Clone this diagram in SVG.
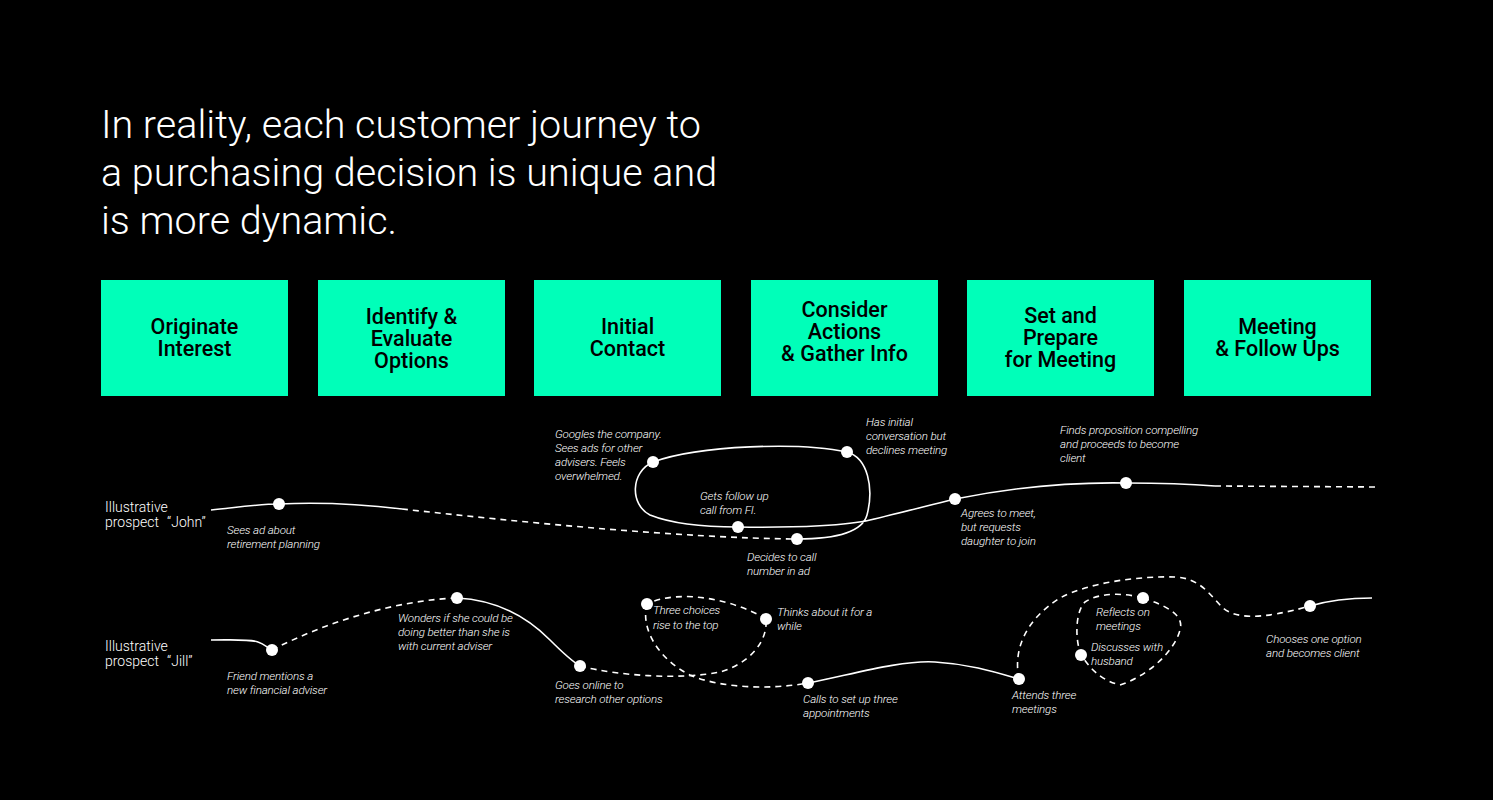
<svg xmlns="http://www.w3.org/2000/svg" width="1493" height="800" viewBox="0 0 1493 800">
<style>
.title{font-family:Roboto,"Liberation Sans",sans-serif;font-weight:300;font-size:39.5px;fill:#fff}
.box{fill:#00FFB9}
.bt{font-family:Roboto,"Liberation Sans",sans-serif;font-weight:500;font-size:21.5px;fill:#000;text-anchor:middle}
.who{font-family:Roboto,"Liberation Sans",sans-serif;font-weight:300;font-size:14px;fill:#fff}
.lbl{font-family:Roboto,"Liberation Sans",sans-serif;font-weight:300;font-style:italic;font-size:11.6px;fill:#fff;letter-spacing:-0.15px}
.solid{fill:none;stroke:#fff;stroke-width:1.6}
.dash{fill:none;stroke:#fff;stroke-width:1.6;stroke-dasharray:6 5}
.dot{fill:#fff}
</style>
<rect width="1493" height="800" fill="#000"/>
<text class="title"><tspan x="101" y="138">In reality, each customer journey to</tspan><tspan x="101" y="186">a purchasing decision is unique and</tspan><tspan x="101" y="234">is more dynamic.</tspan></text>

<g id="stage1"><rect class="box" x="101" y="280" width="187" height="116"/><text class="bt"><tspan x="194.5" y="334">Originate</tspan><tspan x="194.5" y="356">Interest</tspan></text></g>
<g id="stage2"><rect class="box" x="318" y="280" width="187" height="116"/><text class="bt"><tspan x="411.5" y="324">Identify &amp;</tspan><tspan x="411.5" y="346">Evaluate</tspan><tspan x="411.5" y="368">Options</tspan></text></g>
<g id="stage3"><rect class="box" x="534" y="280" width="187" height="116"/><text class="bt"><tspan x="627.5" y="334">Initial</tspan><tspan x="627.5" y="356">Contact</tspan></text></g>
<g id="stage4"><rect class="box" x="751" y="280" width="187" height="116"/><text class="bt"><tspan x="844.5" y="317">Consider</tspan><tspan x="844.5" y="339">Actions</tspan><tspan x="844.5" y="361">&amp; Gather Info</tspan></text></g>
<g id="stage5"><rect class="box" x="967" y="280" width="187" height="116"/><text class="bt"><tspan x="1060.5" y="323">Set and</tspan><tspan x="1060.5" y="345">Prepare</tspan><tspan x="1060.5" y="367">for Meeting</tspan></text></g>
<g id="stage6"><rect class="box" x="1184" y="280" width="187" height="116"/><text class="bt"><tspan x="1277.5" y="334">Meeting</tspan><tspan x="1277.5" y="356">&amp; Follow Ups</tspan></text></g>

<g id="connectors">
<path class="solid" d="M211,510 C240,507 260,504 279,504 C320,502 360,504 402,509"/>
<path class="dash" d="M402,509 C520,522 680,538 797,539"/>
<path class="solid" d="M797,539 C835,539 862,533 867,515 C874,488 868,458 847,452 C800,442 700,445 653,462 C630,472 630,505 650,515 C680,527 720,527 738,527 C800,528 850,525 870,520 C900,513 930,505 955,499 C1010,488 1070,482 1126,483 C1160,483 1190,484 1215,486"/>
<path class="dash" d="M1215,486 L1380,487"/>

<path class="solid" d="M211,640 C235,640 250,639 258,642 C264,644 268,648 272,650"/>
<path class="dash" d="M272,650 C330,620 400,600 457,598"/>
<path class="solid" d="M457,598 C500,600 530,620 550,640 C560,650 570,660 580,666"/>
<path class="dash" d="M580,666 C620,676 680,680 720,672 C745,665 768,645 766,619"/>
<path class="dash" d="M766,619 C735,600 680,588 647,604"/>
<path class="dash" d="M647,604 C640,630 660,660 690,675 C720,688 770,690 808,683"/>
<path class="solid" d="M808,683 C850,675 900,660 935,662 C970,664 995,672 1019,679"/>
<path class="dash" d="M1019,679 C1013,650 1025,620 1060,598 C1090,582 1140,576 1175,577 C1200,578 1210,595 1222,607 C1235,619 1260,620 1310,606"/>
<path class="solid" d="M1310,606 C1330,600 1350,598 1372,598"/>
<path class="dash" d="M1143,598 C1165,605 1185,615 1180,630 C1175,650 1150,675 1120,685 C1100,680 1090,668 1081,655 C1075,640 1075,612 1085,602 C1100,592 1125,593 1143,598 Z"/>
</g>

<g id="john">
<text class="who"><tspan x="105" y="512">Illustrative</tspan><tspan x="105" y="527">prospect</tspan><tspan dx="8">“John”</tspan></text>
<g id="j1"><circle class="dot" cx="279" cy="504" r="6"/><text class="lbl"><tspan x="227" y="534">Sees ad about</tspan><tspan x="227" y="548">retirement planning</tspan></text></g>
<g id="j2"><circle class="dot" cx="797" cy="539" r="6"/><text class="lbl"><tspan x="747" y="561">Decides to call</tspan><tspan x="747" y="575">number in ad</tspan></text></g>
<g id="j3"><circle class="dot" cx="847" cy="452" r="6"/><text class="lbl"><tspan x="866" y="426">Has initial</tspan><tspan x="866" y="440">conversation but</tspan><tspan x="866" y="454">declines meeting</tspan></text></g>
<g id="j4"><circle class="dot" cx="653" cy="462" r="6"/><text class="lbl"><tspan x="555" y="438">Googles the company.</tspan><tspan x="555" y="452">Sees ads for other</tspan><tspan x="555" y="466">advisers. Feels</tspan><tspan x="555" y="480">overwhelmed.</tspan></text></g>
<g id="j5"><circle class="dot" cx="738" cy="527" r="6"/><text class="lbl"><tspan x="700" y="500">Gets follow up</tspan><tspan x="700" y="514">call from FI.</tspan></text></g>
<g id="j6"><circle class="dot" cx="955" cy="499" r="6"/><text class="lbl"><tspan x="961" y="517">Agrees to meet,</tspan><tspan x="961" y="531">but requests</tspan><tspan x="961" y="545">daughter to join</tspan></text></g>
<g id="j7"><circle class="dot" cx="1126" cy="483" r="6"/><text class="lbl"><tspan x="1060" y="434">Finds proposition compelling</tspan><tspan x="1060" y="448">and proceeds to become</tspan><tspan x="1060" y="462">client</tspan></text></g>
</g>

<g id="jill">
<text class="who"><tspan x="105" y="651">Illustrative</tspan><tspan x="105" y="666">prospect</tspan><tspan dx="8">“Jill”</tspan></text>
<g id="l1"><circle class="dot" cx="272" cy="650" r="6"/><text class="lbl"><tspan x="227" y="680">Friend mentions a</tspan><tspan x="227" y="694">new financial adviser</tspan></text></g>
<g id="l2"><circle class="dot" cx="457" cy="598" r="6"/><text class="lbl"><tspan x="398" y="622">Wonders if she could be</tspan><tspan x="398" y="636">doing better than she is</tspan><tspan x="398" y="650">with current adviser</tspan></text></g>
<g id="l3"><circle class="dot" cx="580" cy="666" r="6"/><text class="lbl"><tspan x="555" y="689">Goes online to</tspan><tspan x="555" y="703">research other options</tspan></text></g>
<g id="l4"><circle class="dot" cx="647" cy="604" r="6"/><text class="lbl"><tspan x="653" y="614">Three choices</tspan><tspan x="653" y="629">rise to the top</tspan></text></g>
<g id="l5"><circle class="dot" cx="766" cy="619" r="6"/><text class="lbl"><tspan x="777" y="616">Thinks about it for a</tspan><tspan x="777" y="630">while</tspan></text></g>
<g id="l6"><circle class="dot" cx="808" cy="683" r="6"/><text class="lbl"><tspan x="803" y="703">Calls to set up three</tspan><tspan x="803" y="717">appointments</tspan></text></g>
<g id="l7"><circle class="dot" cx="1019" cy="679" r="6"/><text class="lbl"><tspan x="1012" y="699">Attends three</tspan><tspan x="1012" y="713">meetings</tspan></text></g>
<g id="l8"><circle class="dot" cx="1143" cy="598" r="6"/><text class="lbl"><tspan x="1096" y="616">Reflects on</tspan><tspan x="1096" y="630">meetings</tspan></text></g>
<g id="l9"><circle class="dot" cx="1081" cy="655" r="6"/><text class="lbl"><tspan x="1091" y="651">Discusses with</tspan><tspan x="1091" y="665">husband</tspan></text></g>
<g id="l10"><circle class="dot" cx="1310" cy="606" r="6"/><text class="lbl"><tspan x="1266" y="643">Chooses one option</tspan><tspan x="1266" y="657">and becomes client</tspan></text></g>
</g>
</svg>
